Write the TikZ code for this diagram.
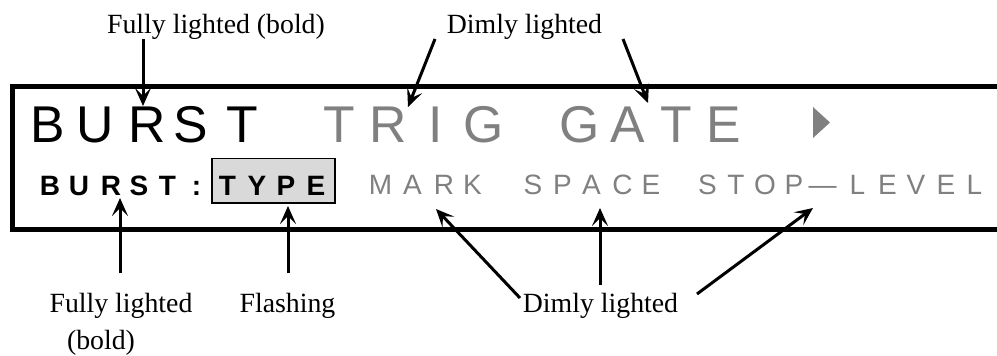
\documentclass[tikz,border=0pt]{standalone}
\usepackage{fontspec}
\setmainfont{Liberation Serif}
\newfontfamily\lcd{Liberation Sans}
\usetikzlibrary{arrows.meta}
\definecolor{dim}{HTML}{808080}
\definecolor{flash}{HTML}{D9D9D9}
\begin{document}
\begin{tikzpicture}[x=1pt,y=-1pt,
  lbl/.style={font=\fontsize{27.8}{32}\selectfont, inner sep=0pt, anchor=base},
  big/.style={font=\lcd\fontsize{51.7}{52}\selectfont, inner sep=0pt, anchor=base},
  small/.style={font=\lcd\bfseries\fontsize{28}{30}\selectfont, inner sep=0pt, anchor=base},
  smalldim/.style={font=\lcd\fontsize{28}{30}\selectfont, inner sep=0pt, anchor=base, text=dim},
  frame/.style={line width=5.5pt, line join=miter},
  ptr/.style={line width=3pt, -{Stealth[length=18pt,width=16pt,inset=8pt]}},
]
\useasboundingbox (0,0) rectangle (997,356);
% display frame
\draw[frame] (1000,86.5) -- (12.5,86.5) -- (12.5,229.5) -- (1000,229.5);
% row 1
\foreach \c/\x/\col [count=\i] in {B/47.5/black, U/95/black, R/147.5/black, S/191/black, T/242/black,
   T/339/dim, R/388/dim, I/436/dim, G/483.5/dim, G/580/dim, A/628/dim, T/676/dim, E/724/dim}
  \node[big, text=\col] (ra\i) at (\x,142) {\c};
\fill[dim] (813,107) -- (830,122.5) -- (813,138) -- cycle;
% flashing box
\node[draw, fill=flash, line width=1.3pt, inner sep=0pt, minimum width=123pt, minimum height=44.5pt]
  (typebox) at (273.5,180.75) {};
% row 2
\foreach \c/\x [count=\i] in {B/50, U/79, R/111, S/139, T/167.5, :/196.5, T/227.5, Y/257, P/286, E/316}
  \node[small] (rb\i) at (\x,195) {\c};
\foreach \c/\x [count=\i] in {M/380.5, A/412.5, R/444, K/472.5, S/533, P/562.5, A/591.5, C/622.5, E/651,
   S/707.5, T/736, O/765, P/794, —/822.5, L/857.5, E/887.5, V/916, E/946, L/974.5}
  \node[smalldim] (rc\i) at (\x,194) {\c};
% labels
\node[lbl] (fltop) at (216,33) {Fully lighted (bold)};
\node[lbl] (dimtop) at (524.5,33) {Dimly lighted};
\node[lbl] (flbot) at (121,312) {Fully lighted};
\node[lbl] (flbold) at (101,349) {(bold)};
\node[lbl] (flash) at (287.5,312) {Flashing};
\node[lbl] (dimbot) at (600.5,312) {Dimly lighted};
% arrow ends
\coordinate (t1) at (143,106);
\coordinate (t2) at (408,107);
\coordinate (t3) at (648,103);
\coordinate (s2) at (435,39);
\coordinate (s3) at (623,39);
\coordinate (b1) at (120,198);
\coordinate (b2) at (288,206);
\coordinate (b3) at (436,209);
\coordinate (b4) at (600,208);
\coordinate (b5) at (813,208);
\coordinate (u1) at (120,273);
\coordinate (u2) at (288,273);
\coordinate (u3) at (520,298);
\coordinate (u4) at (600,285);
\coordinate (u5) at (697,294);
\draw[ptr] (fltop.south -| t1) -- (t1);
\draw[ptr] (s2) -- (t2);
\draw[ptr] (s3) -- (t3);
\draw[ptr] (u1) -- (b1);
\draw[ptr] (u2) -- (b2);
\draw[ptr] (u3) -- (b3);
\draw[ptr] (u4) -- (b4);
\draw[ptr] (u5) -- (b5);
\end{tikzpicture}
\end{document}
